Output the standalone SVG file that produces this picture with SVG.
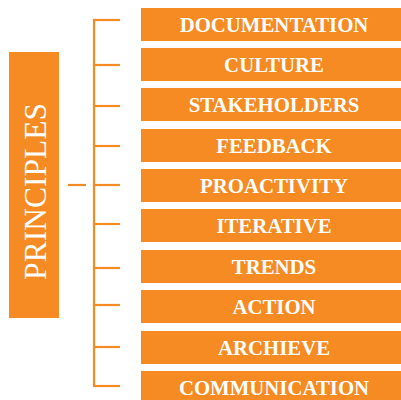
<svg xmlns="http://www.w3.org/2000/svg" width="401" height="400" viewBox="0 0 401 400">
<style>
.box{fill:#F58B22}
.lbl{font-family:"Liberation Serif","Times New Roman",serif;font-weight:bold;font-size:20.8px;fill:#fff;text-anchor:middle}
.ttl{font-family:"Liberation Serif","Times New Roman",serif;font-size:31.5px;fill:#fff;text-anchor:middle}
.ln{stroke:#F58B22;stroke-width:2.2;fill:none}
</style>
<rect width="401" height="400" fill="#fff"/>
<g id="principles">
<rect class="box" x="9" y="52" width="50" height="266"/>
<text class="ttl" transform="translate(45.5,191.5) rotate(-90)">PRINCIPLES</text>
</g>
<g id="connectors">
<line class="ln" x1="94" y1="19" x2="94" y2="387"/>
<line class="ln" x1="68" y1="185" x2="86" y2="185"/>
<line class="ln" x1="93" y1="20" x2="120" y2="20"/>
<line class="ln" x1="93" y1="65" x2="120" y2="65"/>
<line class="ln" x1="93" y1="106" x2="120" y2="106"/>
<line class="ln" x1="93" y1="146" x2="120" y2="146"/>
<line class="ln" x1="93" y1="185" x2="120" y2="185"/>
<line class="ln" x1="93" y1="224" x2="120" y2="224"/>
<line class="ln" x1="93" y1="268" x2="120" y2="268"/>
<line class="ln" x1="93" y1="305" x2="120" y2="305"/>
<line class="ln" x1="93" y1="347" x2="120" y2="347"/>
<line class="ln" x1="93" y1="386" x2="120" y2="386"/>
</g>
<g id="documentation"><rect class="box" x="141" y="8" width="260" height="33"/><text class="lbl" x="274" y="31.5">DOCUMENTATION</text></g>
<g id="culture"><rect class="box" x="141" y="48" width="260" height="33"/><text class="lbl" x="274" y="71.5">CULTURE</text></g>
<g id="stakeholders"><rect class="box" x="141" y="88" width="260" height="33"/><text class="lbl" x="274" y="111.5">STAKEHOLDERS</text></g>
<g id="feedback"><rect class="box" x="141" y="129" width="260" height="33"/><text class="lbl" x="274" y="152.5">FEEDBACK</text></g>
<g id="proactivity"><rect class="box" x="141" y="169" width="260" height="33"/><text class="lbl" x="274" y="192.5">PROACTIVITY</text></g>
<g id="iterative"><rect class="box" x="141" y="209" width="260" height="33"/><text class="lbl" x="274" y="232.5">ITERATIVE</text></g>
<g id="trends"><rect class="box" x="141" y="250" width="260" height="33"/><text class="lbl" x="274" y="273.5">TRENDS</text></g>
<g id="action"><rect class="box" x="141" y="290" width="260" height="33"/><text class="lbl" x="274" y="313.5">ACTION</text></g>
<g id="archieve"><rect class="box" x="141" y="331" width="260" height="33"/><text class="lbl" x="274" y="354.5">ARCHIEVE</text></g>
<g id="communication"><rect class="box" x="141" y="371" width="260" height="29"/><text class="lbl" x="274" y="394.5">COMMUNICATION</text></g>
</svg>
